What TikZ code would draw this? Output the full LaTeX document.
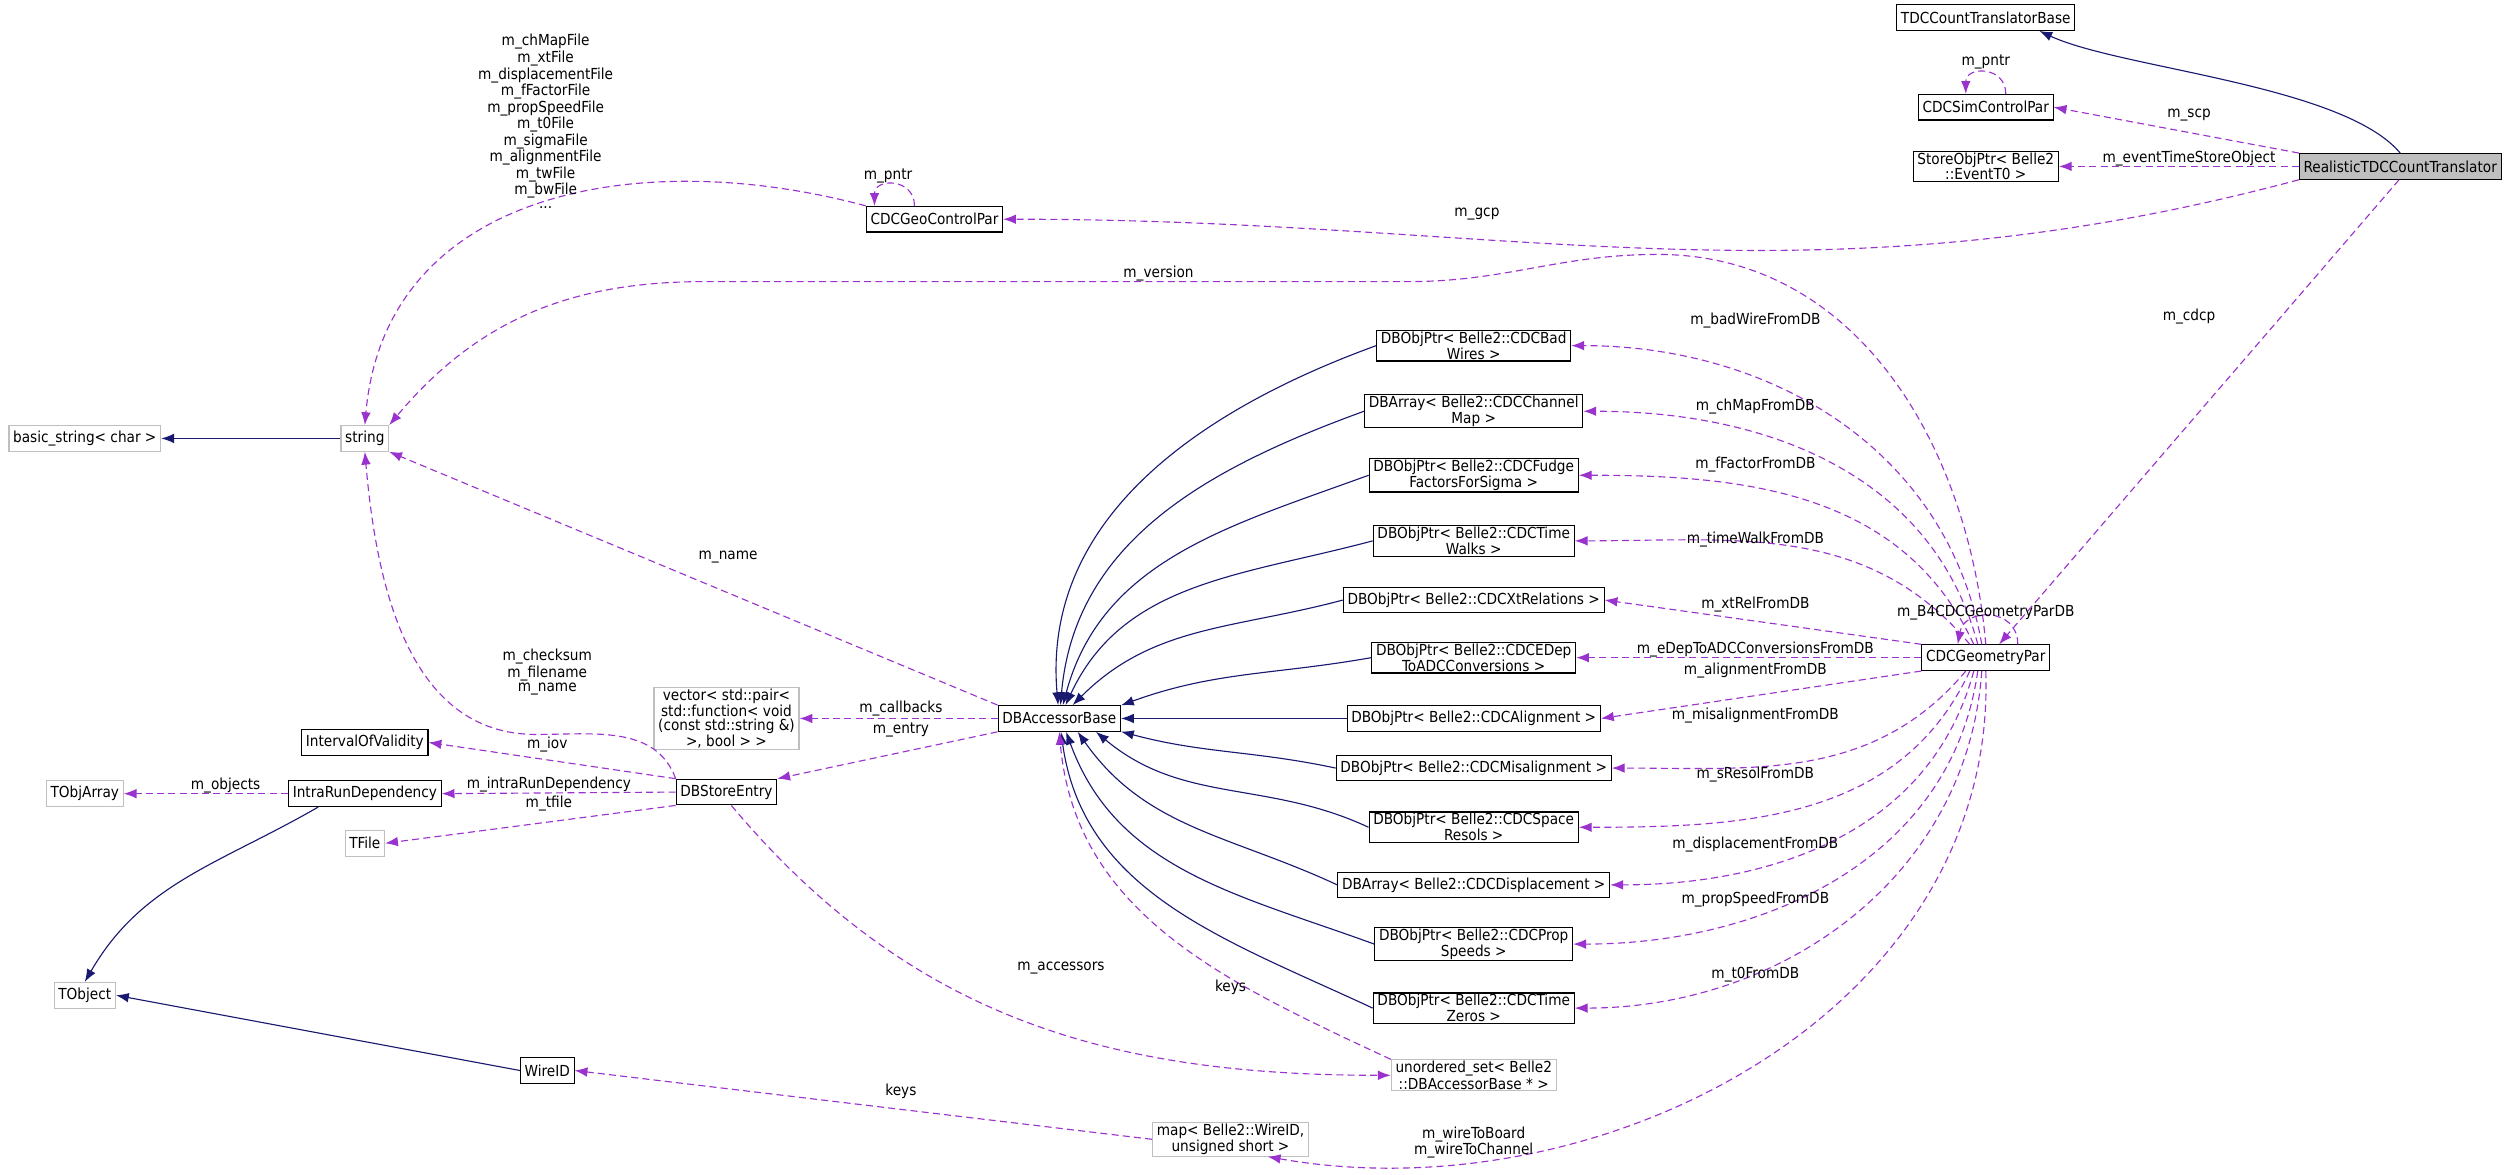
\documentclass[tikz,border=0pt]{standalone}
\usepackage{fontspec}
\setmainfont{DejaVu Sans Condensed}
\usepackage{tikz}
\usetikzlibrary{arrows.meta, positioning}
\definecolor{memberCol}{HTML}{9A32CD}
\definecolor{inheritCol}{HTML}{191970}
\definecolor{greyCol}{HTML}{BFBFBF}
\tikzset{
    classBox/.style={rectangle, draw=black, thick, fill=white, inner xsep=3pt, inner ysep=1pt, minimum height=6.4mm, align=center, font=\fontsize{10.8}{10}\selectfont},
    extBox/.style={classBox, draw=greyCol},
    mainBox/.style={classBox, fill=greyCol},
    memberEdge/.style={-{Latex[length=3.2mm, width=2.4mm]}, memberCol, thick, dashed, dash pattern=on 5pt off 3pt},
    inheritEdge/.style={-{Latex[length=3.2mm, width=2.4mm]}, inheritCol, thick},
    edgeLabel/.style={align=center, inner sep=0pt, font=\fontsize{10.8}{10}\selectfont},
}
\newcommand{\drawMember}[3][]{
    \draw[memberEdge, #1] (#2) to (#3);
}
\newcommand{\drawInherit}[3][]{
    \draw[inheritEdge, #1] (#2) to (#3);
}

\begin{document}
\begin{tikzpicture}[x=0.4mm, y=0.4mm]
    \useasboundingbox (0,0) rectangle (1568,-734);

    % classes on the right
    \node[mainBox] (real) at (1500,-104) {RealisticTDCCountTranslator};
    \node[classBox] (tdcBase) at (1241,-11) {TDCCountTranslatorBase};
    \node[classBox] (simPar) at (1241,-67) {CDCSimControlPar};
    \node[classBox] (storeObj) at (1241,-104) {StoreObjPtr< Belle2\\::EventT0 >};
    \node[classBox] (geoCtrl) at (584,-137) {CDCGeoControlPar};
    \node[classBox] (geomPar) at (1241,-411) {CDCGeometryPar};

    % database objects
    \node[classBox] (badWires) at (921,-216) {DBObjPtr< Belle2::CDCBad\\Wires >};
    \node[classBox] (chMap) at (921,-257) {DBArray< Belle2::CDCChannel\\Map >};
    \node[classBox] (fudge) at (921,-297) {DBObjPtr< Belle2::CDCFudge\\FactorsForSigma >};
    \node[classBox] (timeWalks) at (921,-338) {DBObjPtr< Belle2::CDCTime\\Walks >};
    \node[classBox] (xtRel) at (921,-375) {DBObjPtr< Belle2::CDCXtRelations >};
    \node[classBox] (eDep) at (921,-411) {DBObjPtr< Belle2::CDCEDep\\ToADCConversions >};
    \node[classBox] (align) at (921,-449) {DBObjPtr< Belle2::CDCAlignment >};
    \node[classBox] (misalign) at (921,-480) {DBObjPtr< Belle2::CDCMisalignment >};
    \node[classBox] (spaceRes) at (921,-517) {DBObjPtr< Belle2::CDCSpace\\Resols >};
    \node[classBox] (displ) at (921,-553) {DBArray< Belle2::CDCDisplacement >};
    \node[classBox] (propSp) at (921,-590) {DBObjPtr< Belle2::CDCProp\\Speeds >};
    \node[classBox] (timeZeros) at (921,-630) {DBObjPtr< Belle2::CDCTime\\Zeros >};
    \node[extBox] (accSet) at (921,-672) {unordered\_set< Belle2\\::DBAccessorBase * >};
    \node[extBox] (wireMap) at (769,-712) {map< Belle2::WireID,\\unsigned short >};

    % left part
    \node[classBox] (dbBase) at (662,-449) {DBAccessorBase};
    \node[extBox] (cbVec) at (454,-449) {vector< std::pair<\\ std::function< void\\(const std::string \&)\\>, bool > >};
    \node[classBox] (storeEntry) at (454,-495) {DBStoreEntry};
    \node[classBox] (iov) at (228,-464) {IntervalOfValidity};
    \node[classBox] (intraRun) at (228,-496) {IntraRunDependency};
    \node[extBox] (tObjArray) at (53,-496) {TObjArray};
    \node[extBox] (tFile) at (228,-527) {TFile};
    \node[extBox] (tObject) at (53,-622) {TObject};
    \node[classBox] (wireID) at (342,-669) {WireID};
    \node[extBox] (strNode) at (228,-274) {string};
    \node[extBox] (basicStr) at (53,-274) {basic\_string< char >};

    % inheritance
    \drawInherit[out=130, in=-25, looseness=0.6]{real.north}{tdcBase.-14}
    \drawInherit{strNode.west}{basicStr.east}
    \drawInherit[out=-150, in=60]{intraRun.-164}{tObject.north}
    \drawInherit{wireID.west}{tObject.east}
    \drawInherit[out=200, in=95]{badWires.west}{dbBase.95}
    \drawInherit[out=200, in=85]{chMap.west}{dbBase.85}
    \drawInherit[out=200, in=75]{fudge.west}{dbBase.75}
    \drawInherit[out=195, in=65]{timeWalks.west}{dbBase.65}
    \drawInherit[out=195, in=45]{xtRel.west}{dbBase.45}
    \drawInherit[out=190, in=20]{eDep.west}{dbBase.12}
    \drawInherit{align.west}{dbBase.east}
    \drawInherit[out=168, in=-15]{misalign.west}{dbBase.-12}
    \drawInherit[out=155, in=-40]{spaceRes.west}{dbBase.-20}
    \drawInherit[out=155, in=-55]{displ.west}{dbBase.-36}
    \drawInherit[out=160, in=-70]{propSp.west}{dbBase.-63}
    \drawInherit[out=155, in=-82]{timeZeros.west}{dbBase.-83}

    % members of the translator
    \drawMember{real.north west}{simPar.east}
    \draw[memberEdge] ([xshift=5mm]simPar.north) to[out=90, in=90, looseness=1.8] ([xshift=-5mm]simPar.north);
    \drawMember{real.west}{storeObj.east}
    \drawMember[out=-165, in=0]{real.south west}{geoCtrl.east}
    \drawMember{real.-95}{geomPar.45}
    \node[edgeLabel] (lPntrA) at (1241,-39) {m\_pntr};
    \node[edgeLabel] (lScp) at (1368,-72) {m\_scp};
    \node[edgeLabel] (lEvt) at (1368,-99) {m\_eventTimeStoreObject};
    \node[edgeLabel] (lGcp) at (923,-134) {m\_gcp};
    \node[edgeLabel] (lCdcp) at (1368,-198) {m\_cdcp};

    % geometry control parameters
    \draw[memberEdge] ([xshift=-5mm]geoCtrl.north) to[out=90, in=90, looseness=1.8] ([xshift=-15mm]geoCtrl.north);
    \drawMember[out=165, in=85, looseness=1.1]{geoCtrl.north west}{strNode.north}
    \node[edgeLabel] (lPntrB) at (555,-110) {m\_pntr};
    \node[edgeLabel] (lFiles) at (341,-76) {m\_chMapFile\\m\_xtFile\\m\_displacementFile\\m\_fFactorFile\\m\_propSpeedFile\\m\_t0File\\m\_sigmaFile\\m\_alignmentFile\\m\_twFile\\m\_bwFile\\...};

    % geometry parameters
    \draw[memberEdge] (geomPar.north) to[out=95, in=0] (1036,-159) to[out=180, in=0] (880,-176) -- (440,-176) to[out=180, in=50] (strNode.north east);
    \draw[memberEdge] ([xshift=8mm]geomPar.north) to[out=90, in=80, looseness=1.6] ([xshift=-7mm]geomPar.north);
    \drawMember[out=100, in=0]{[xshift=-1mm]geomPar.north}{badWires.east}
    \drawMember[out=105, in=0]{[xshift=-2mm]geomPar.north}{chMap.east}
    \drawMember[out=115, in=0]{[xshift=-3mm]geomPar.north}{fudge.east}
    \drawMember[out=130, in=0]{[xshift=-4mm]geomPar.north}{timeWalks.east}
    \drawMember{geomPar.north west}{xtRel.east}
    \drawMember{geomPar.west}{eDep.east}
    \drawMember{geomPar.south west}{align.east}
    \drawMember[out=-130, in=0]{[xshift=-5mm]geomPar.south}{misalign.east}
    \drawMember[out=-115, in=0]{[xshift=-4mm]geomPar.south}{spaceRes.east}
    \drawMember[out=-105, in=0]{[xshift=-3mm]geomPar.south}{displ.east}
    \drawMember[out=-98, in=0]{[xshift=-2mm]geomPar.south}{propSp.east}
    \drawMember[out=-94, in=0]{[xshift=-1mm]geomPar.south}{timeZeros.east}
    \drawMember[out=-88, in=-10]{geomPar.south}{wireMap.-25}
    \node[edgeLabel] (lVersion) at (724,-171) {m\_version};
    \node[edgeLabel] (lB4) at (1241,-383) {m\_B4CDCGeometryParDB};
    \node[edgeLabel] (lBad) at (1097,-200) {m\_badWireFromDB};
    \node[edgeLabel] (lChMap) at (1097,-254) {m\_chMapFromDB};
    \node[edgeLabel] (lFFac) at (1097,-290) {m\_fFactorFromDB};
    \node[edgeLabel] (lTw) at (1097,-337) {m\_timeWalkFromDB};
    \node[edgeLabel] (lXt) at (1097,-378) {m\_xtRelFromDB};
    \node[edgeLabel] (lEDep) at (1097,-406) {m\_eDepToADCConversionsFromDB};
    \node[edgeLabel] (lAlign) at (1097,-419) {m\_alignmentFromDB};
    \node[edgeLabel] (lMis) at (1097,-447) {m\_misalignmentFromDB};
    \node[edgeLabel] (lSRes) at (1097,-484) {m\_sResolFromDB};
    \node[edgeLabel] (lDispl) at (1097,-528) {m\_displacementFromDB};
    \node[edgeLabel] (lProp) at (1097,-562) {m\_propSpeedFromDB};
    \node[edgeLabel] (lT0) at (1097,-609) {m\_t0FromDB};
    \node[edgeLabel] (lWire) at (921,-714) {m\_wireToBoard\\m\_wireToChannel};

    % accessor base and store entry
    \drawMember{dbBase.north west}{strNode.south east}
    \drawMember{dbBase.west}{cbVec.east}
    \drawMember{dbBase.south west}{storeEntry.north east}
    \drawMember[out=155, in=-85]{accSet.north west}{dbBase.south}
    \drawMember[out=-50, in=180]{storeEntry.-70}{accSet.west}
    \draw[memberEdge] (storeEntry.north west) to[out=110, in=0] (335,-459) to[out=180, in=-85] (strNode.south);
    \drawMember{storeEntry.north west}{iov.east}
    \drawMember{storeEntry.west}{intraRun.east}
    \drawMember{storeEntry.south west}{tFile.east}
    \drawMember{intraRun.west}{tObjArray.east}
    \drawMember{wireMap.west}{wireID.east}
    \node[edgeLabel] (lName) at (455,-348) {m\_name};
    \node[edgeLabel] (lCheck) at (342,-420) {m\_checksum\\m\_filename\\m\_name};
    \node[edgeLabel] (lCb) at (563,-443) {m\_callbacks};
    \node[edgeLabel] (lEntry) at (563,-456) {m\_entry};
    \node[edgeLabel] (lIov) at (342,-465) {m\_iov};
    \node[edgeLabel] (lIntra) at (343,-490) {m\_intraRunDependency};
    \node[edgeLabel] (lTfile) at (343,-502) {m\_tfile};
    \node[edgeLabel] (lObj) at (141,-491) {m\_objects};
    \node[edgeLabel] (lAcc) at (663,-605) {m\_accessors};
    \node[edgeLabel] (lKeysA) at (769,-617) {keys};
    \node[edgeLabel] (lKeysB) at (563,-682) {keys};
\end{tikzpicture}
\end{document}
